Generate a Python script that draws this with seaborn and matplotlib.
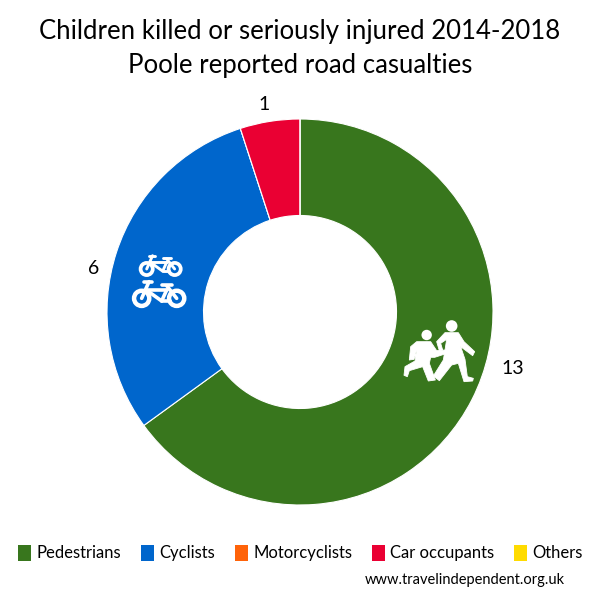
import matplotlib as mpl
mpl.use('Agg')
import matplotlib.pyplot as plt
from matplotlib.patches import Polygon, Circle, Rectangle
import seaborn as sns

# data
categories = ['Pedestrians', 'Cyclists', 'Motorcyclists', 'Car occupants', 'Others']
casualties = [13, 6, 0, 1, 0]
colours = ['#38761D', '#0066CC', '#FF6309', '#EA0033', '#FFDB00']
title = 'Children killed or seriously injured 2014-2018\nPoole reported road casualties'
credit = 'www.travelindependent.org.uk'

sns.set_theme(style='white')
plt.rcParams['font.family'] = ['Lato', 'DejaVu Sans']
palette = sns.color_palette(colours)

fig = plt.figure(figsize=(6, 6), dpi=100, facecolor='white')

# overlay in pixel coords for text and the icons
top = fig.add_axes([0, 0, 1, 1], zorder=3)
top.set_xlim(0, 600)
top.set_ylim(600, 0)
top.axis('off')

# donut, centre (300,312), radius 193
R = 193
ax = fig.add_axes([(300 - R) / 600, (600 - 312 - R) / 600, 2 * R / 600, 2 * R / 600])
ax.pie(casualties, colors=palette, startangle=90, counterclock=False, radius=1,
       wedgeprops=dict(width=0.5, edgecolor='white', linewidth=0.8))
ax.set_xlim(-1, 1)
ax.set_ylim(-1, 1)

top.text(300, 31, title.split('\n')[0], ha='center', va='center', fontsize=18.5, color='black')
top.text(300, 65, title.split('\n')[1], ha='center', va='center', fontsize=18.5, color='black')

# value labels
for val, (x, y) in zip([13, 6, 1], [(513, 369), (94, 268), (264, 105)]):
    top.text(x, y, str(val), ha='center', va='center', fontsize=14, color='black')


def poly(pts, ox, oy):
    top.add_patch(Polygon([(ox + a / 3, oy + b / 3) for a, b in pts], closed=True, fc='white', ec='white',
                          lw=0.6, joinstyle='round'))


# children icon, points taken from a 3x crop at (390,300)
ox, oy = 390, 300
top.add_patch(Circle((ox + 185 / 3, oy + 78 / 3), 5.8, fc='white', ec='none'))
top.add_patch(Circle((ox + 110 / 3, oy + 105 / 3), 5.2, fc='white', ec='none'))
poly([(165, 98), (205, 98), (222, 125), (254, 155), (248, 167), (212, 140), (225, 178), (232, 230),
      (250, 235), (248, 243), (222, 245), (205, 190), (185, 195), (148, 242), (130, 228), (160, 180),
      (165, 150), (170, 118), (152, 130), (158, 150), (148, 152), (140, 125)], ox, oy)
poly([(80, 125), (122, 125), (140, 152), (165, 150), (165, 162), (134, 172), (122, 172), (118, 190),
      (136, 240), (115, 243), (98, 200), (58, 212), (52, 230), (42, 226), (45, 200), (75, 183),
      (80, 150), (72, 178), (58, 180), (62, 140)], ox, oy)


def bike(ox, oy, s):
    # offsets relative to the rear wheel centre, s scales the bike
    lw = 2.6 * s
    for wx in [0, 105]:
        top.add_patch(Circle((ox + wx * s / 3, oy), 7.6 * s, fc='none', ec='white', lw=lw + 0.6))
    segs = [[(0, 0), (22, -50)], [(8, -50), (32, -50)], [(14, -25), (75, -25)],
            [(75, -25), (60, 8)], [(14, -25), (60, 8)], [(75, -38), (105, 0)],
            [(62, -40), (90, -40)], [(60, 8), (85, 8)]]
    for a, b in segs:
        top.plot([ox + a[0] * s / 3, ox + b[0] * s / 3], [oy + a[1] * s / 3, oy + b[1] * s / 3],
                 color='white', lw=lw, solid_capstyle='round')


bike(120 + 65 / 3, 240 + 175 / 3, 1.0)
bike(120 + 80 / 3, 240 + 87 / 3, 0.8)

# legend
handles = [Rectangle((0, 0), 1, 1, fc=c, ec='none') for c in palette]
fig.legend(handles, categories, ncol=5, loc='center', bbox_to_anchor=(300.5 / 600, 1 - 553 / 600), frameon=False,
           fontsize=12, handlelength=0.8, handleheight=1.1, handletextpad=0.33, columnspacing=1.15,
           labelcolor='black')

top.text(565, 580, credit, ha='right', va='center', fontsize=10.5, color='black')

plt.savefig('out.png', dpi=100)
